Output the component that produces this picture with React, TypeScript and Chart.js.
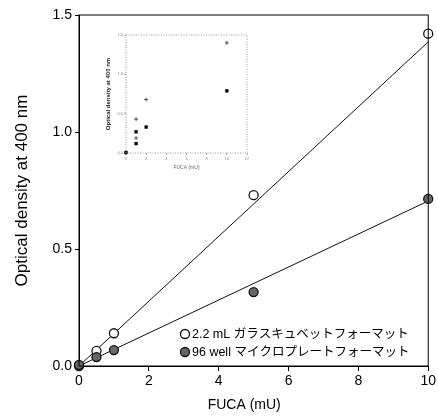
import React, { useEffect, useRef } from "react";
import { Chart, registerables } from "chart.js";
Chart.register(...registerables);

const FONT = "'Liberation Sans', Arial, 'Noto Sans CJK JP', sans-serif";

// main data
const fucaX = [0, 0.5, 1, 5, 10];
const cuvetteOD = [0, 0.065, 0.14, 0.73, 1.42];
const plateOD = [0.005, 0.038, 0.068, 0.316, 0.714];
const fitX = [0, 10];
const cuvetteFit = [0, 1.385];
const plateFit = [0, 0.705];
const xTicks = [0, 2, 4, 6, 8, 10];
const yTicks = [0, 0.5, 1.0, 1.5];
const seriesLabels = ["2.2 mL ガラスキュベットフォーマット", "96 well マイクロプレートフォーマット"];
const xTitle = "FUCA (mU)";
const yTitle = "Optical density at 400 nm";

// inset data
const insetCuvetteX = [0, 1, 1, 2, 10];
const insetCuvetteOD = [0.01, 0.19, 0.43, 0.68, 1.4];
const insetPlateX = [0, 1, 1, 2, 10];
const insetPlateOD = [0.005, 0.12, 0.27, 0.33, 0.79];
const insetXTicks = [0, 2, 4, 6, 8, 10, 12];
const insetYTicks = [0, 0.5, 1.0, 1.5];

const pts = (xs: number[], ys: number[]) => xs.map((x, i) => ({ x, y: ys[i] }));

const boxPlugin = (color: string, dash: number[], width: number) => ({
  id: "box",
  afterDraw(chart: any) {
    const { ctx, chartArea: a } = chart;
    ctx.save();
    ctx.strokeStyle = color;
    ctx.lineWidth = width;
    ctx.setLineDash(dash);
    ctx.strokeRect(a.left, a.top, a.right - a.left, a.bottom - a.top);
    ctx.restore();
  },
});

const mainDecor = {
  id: "mainDecor",
  afterDraw(chart: any) {
    const { ctx, chartArea: a } = chart;
    ctx.save();
    // x title
    ctx.fillStyle = "#000";
    ctx.font = `14px ${FONT}`;
    ctx.textAlign = "center";
    ctx.textBaseline = "middle";
    ctx.fillText(xTitle, a.left + (a.right - a.left) * 0.473, 405);
    // legend
    const styles = [chart.data.datasets[1], chart.data.datasets[0]];
    const mx = a.left + 106;
    const rows = [a.bottom - 32, a.bottom - 14];
    ctx.font = `12.5px ${FONT}`;
    ctx.textAlign = "left";
    seriesLabels.forEach((label, i) => {
      const ds: any = styles[i];
      ctx.beginPath();
      ctx.arc(mx, rows[i], 4.5, 0, Math.PI * 2);
      ctx.fillStyle = ds.backgroundColor;
      ctx.fill();
      ctx.lineWidth = ds.borderWidth;
      ctx.strokeStyle = ds.borderColor;
      ctx.stroke();
      ctx.fillStyle = "#000";
      ctx.fillText(label, mx + 7, rows[i] + 1);
    });
    ctx.restore();
  },
};

function MainChart() {
  const ref = useRef<HTMLCanvasElement>(null);
  useEffect(() => {
    const chart = new Chart(ref.current!, {
      type: "scatter",
      data: {
        datasets: [
          {
            label: seriesLabels[1],
            data: pts(fucaX, plateOD),
            pointRadius: 4.5,
            backgroundColor: "#666",
            borderColor: "#111",
            borderWidth: 1.3,
            clip: false as any,
          },
          {
            label: seriesLabels[0],
            data: pts(fucaX, cuvetteOD),
            pointRadius: 4.5,
            backgroundColor: "#fff",
            borderColor: "#111",
            borderWidth: 1.3,
            clip: false as any,
          },
          {
            label: "fit1",
            data: pts(fitX, cuvetteFit),
            showLine: true,
            pointRadius: 0,
            borderColor: "#111",
            borderWidth: 1,
          },
          {
            label: "fit2",
            data: pts(fitX, plateFit),
            showLine: true,
            pointRadius: 0,
            borderColor: "#111",
            borderWidth: 1,
          },
        ],
      },
      options: {
        responsive: false,
        animation: false,
        events: [],
        layout: { padding: { left: 0, right: 8, top: 15, bottom: 0 } },
        plugins: { legend: { display: false }, tooltip: { enabled: false } },
        scales: {
          x: {
            type: "linear",
            min: 0,
            max: 10,
            afterFit: (s: any) => { s.height = 53; },
            afterBuildTicks: (s: any) => { s.ticks = xTicks.map((v) => ({ value: v })); },
            grid: { display: true, drawOnChartArea: false, drawTicks: true, tickLength: 5, color: "#000" },
            border: { display: true, color: "#000", width: 1 },
            ticks: { color: "#000", font: { size: 14, family: FONT }, padding: 2, maxRotation: 0, callback: (v: any) => String(v) },
            title: { display: false },
          },
          y: {
            type: "linear",
            min: 0,
            max: 1.5,
            afterFit: (s: any) => { s.width = 79; },
            afterBuildTicks: (s: any) => { s.ticks = yTicks.map((v) => ({ value: v })); },
            grid: { display: true, drawOnChartArea: false, drawTicks: true, tickLength: 4, color: "#000" },
            border: { display: true, color: "#000", width: 1 },
            ticks: { color: "#000", font: { size: 14, family: FONT }, padding: 3, callback: (v: any) => Number(v).toFixed(1) },
            title: { display: true, text: yTitle, color: "#000", font: { size: 17, family: FONT }, padding: { top: 12, bottom: 0 } },
          },
        },
      },
      plugins: [boxPlugin("#000", [], 1), mainDecor],
    } as any);
    return () => chart.destroy();
  }, []);
  return <canvas ref={ref} width={438} height={419} style={{ position: "absolute", left: 0, top: 0 }} />;
}

function InsetChart() {
  const ref = useRef<HTMLCanvasElement>(null);
  useEffect(() => {
    const chart = new Chart(ref.current!, {
      type: "scatter",
      data: {
        datasets: [
          {
            label: seriesLabels[1],
            data: pts(insetPlateX, insetPlateOD),
            pointStyle: "rect",
            pointRadius: 2,
            backgroundColor: "#000",
            borderColor: "#000",
            borderWidth: 0.5,
            clip: false as any,
          },
          {
            label: seriesLabels[0],
            data: pts(insetCuvetteX, insetCuvetteOD),
            pointStyle: "cross",
            pointRadius: 2,
            backgroundColor: "#555",
            borderColor: "#555",
            borderWidth: 1,
            clip: false as any,
          },
        ],
      },
      options: {
        responsive: false,
        animation: false,
        events: [],
        layout: { padding: { left: 0, right: 8, top: 10, bottom: 0 } },
        plugins: { legend: { display: false }, tooltip: { enabled: false } },
        scales: {
          x: {
            type: "linear",
            min: 0,
            max: 12,
            afterFit: (s: any) => { s.height = 27; },
            afterBuildTicks: (s: any) => { s.ticks = insetXTicks.map((v) => ({ value: v })); },
            grid: { display: true, drawOnChartArea: false, drawTicks: true, tickLength: 2, color: "#aaa" },
            border: { display: false },
            ticks: { color: "#888", font: { size: 4, family: FONT }, padding: 1, maxRotation: 0, callback: (v: any) => String(v) },
            title: { display: true, text: xTitle, color: "#666", font: { size: 5, family: FONT }, padding: { top: 0, bottom: 9 } },
          },
          y: {
            type: "linear",
            min: 0,
            max: 1.5,
            afterFit: (s: any) => { s.width = 26; },
            afterBuildTicks: (s: any) => { s.ticks = insetYTicks.map((v) => ({ value: v })); },
            grid: { display: true, drawOnChartArea: false, drawTicks: true, tickLength: 2, color: "#aaa" },
            border: { display: false },
            ticks: { color: "#888", font: { size: 4, family: FONT }, padding: 1, callback: (v: any) => Number(v).toFixed(1) },
            title: { display: true, text: yTitle, color: "#222", font: { size: 6, family: FONT, weight: "bold" }, padding: { top: 4.5, bottom: 0 } },
          },
        },
      },
      plugins: [boxPlugin("#999", [1, 1.5], 1)],
    } as any);
    return () => chart.destroy();
  }, []);
  return <canvas ref={ref} width={155} height={155} style={{ position: "absolute", left: 100, top: 25 }} />;
}

export default function App() {
  return (
    <div style={{ position: "fixed", left: 0, top: 0, width: 438, height: 419, background: "#fff" }}>
      <MainChart />
      <InsetChart />
    </div>
  );
}
